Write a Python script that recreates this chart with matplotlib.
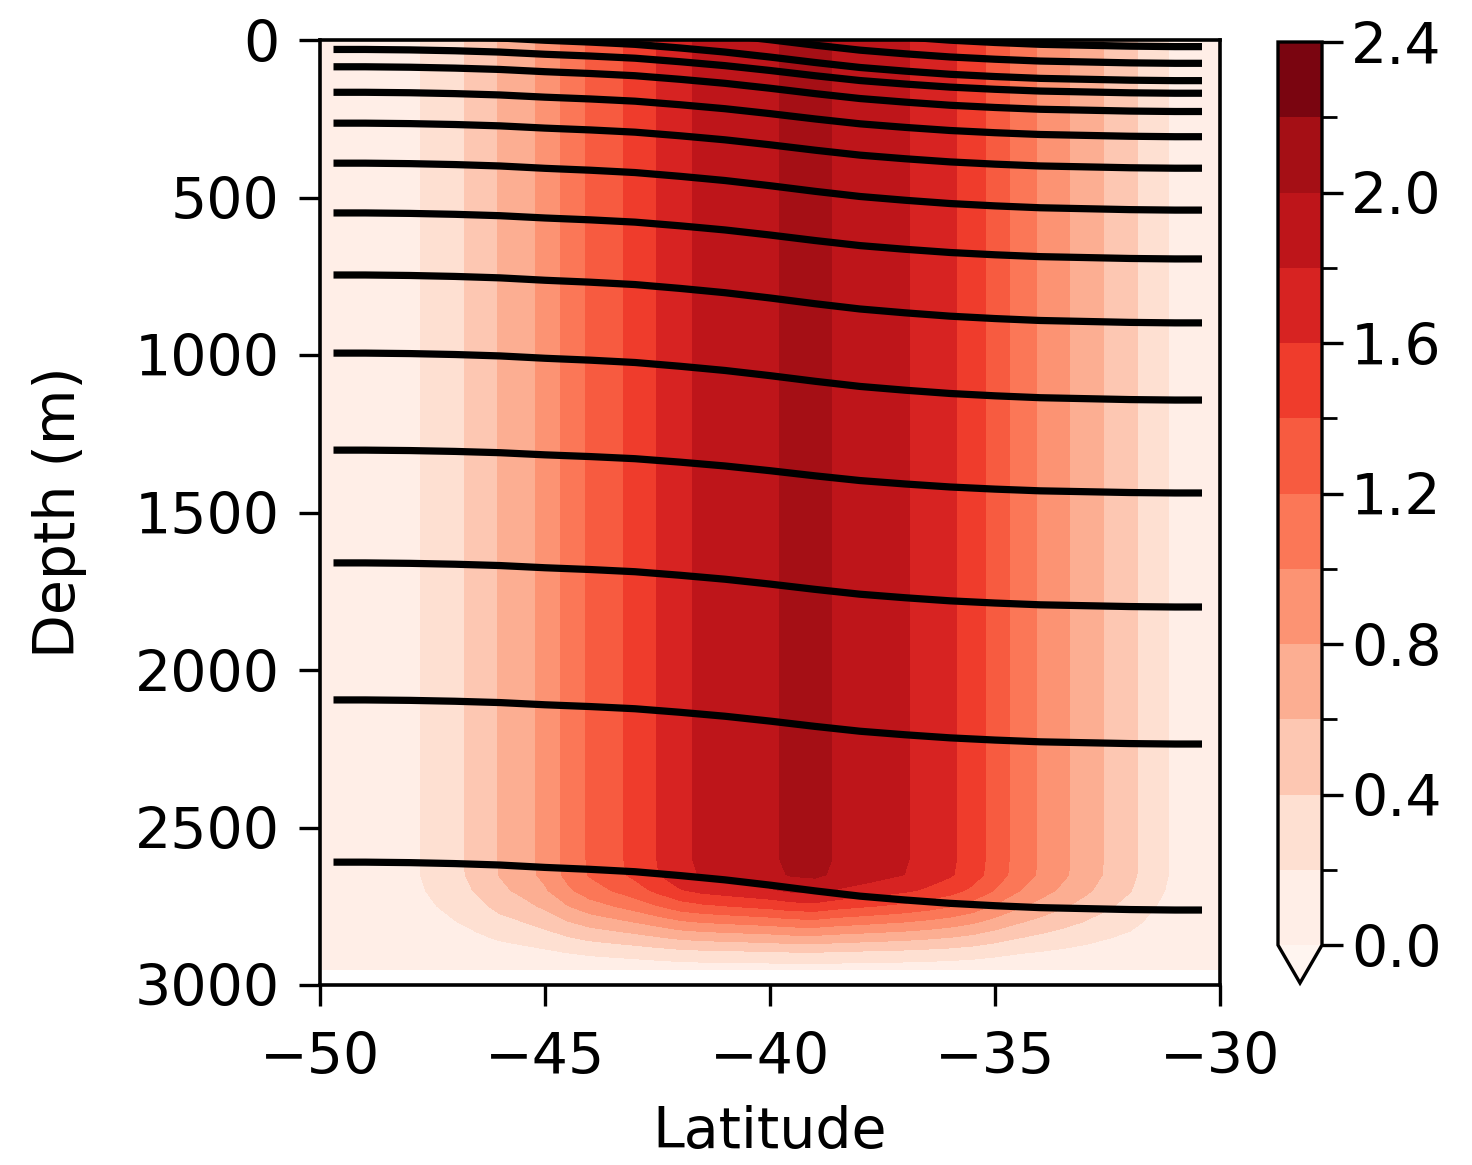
"""Zonal-mean section: shaded field (Reds) with isopycnal depth lines."""
import numpy as np
import matplotlib
matplotlib.use("Agg")
import matplotlib.pyplot as plt
from matplotlib.ticker import FixedLocator, FormatStrFormatter

# ---- data ----
# latitude grid and the upper-ocean field profile along it
lat_grid = [-50.0, -49.5, -49.0, -48.5, -48.0, -47.5, -47.0, -46.5, -46.0, -45.5,
            -45.0, -44.5, -44.0, -43.5, -43.0, -42.5, -42.0, -41.5, -41.0, -40.5,
            -40.0, -39.5, -39.0, -38.5, -38.0, -37.5, -37.0, -36.5, -36.0, -35.5,
            -35.0, -34.5, -34.0, -33.5, -33.0, -32.5, -32.0, -31.5, -31.0, -30.5, -30.0]
field_profile = [0.04, 0.06, 0.09, 0.12, 0.16, 0.25, 0.35, 0.47, 0.615, 0.72,
                 0.86, 1.065, 1.23, 1.34, 1.46, 1.605, 1.755, 1.835, 1.88, 1.925,
                 1.97, 2.04, 2.06, 1.98, 1.925, 1.87, 1.815, 1.735, 1.64, 1.505,
                 1.32, 1.13, 0.98, 0.845, 0.71, 0.575, 0.455, 0.29, 0.165, 0.10, 0.06]
# depth grid and bottom taper of the field
depth_grid = [0, 2600, 2650, 2700, 2750, 2800, 2850, 2900, 2950]
depth_taper = [1.0, 1.0, 0.99, 0.90, 0.74, 0.55, 0.36, 0.18, 0.05]

# isopycnals: depth at west end, depth at east end, shared along-section shape
line_lats = [-49.7, -49, -48, -47, -46, -45, -44, -43, -42, -41, -40,
             -39, -38, -37, -36, -35, -34, -33, -32, -31, -30.4]
line_shape = [0.0, 0.0, 0.01, 0.03, 0.06, 0.11, 0.15, 0.20, 0.28, 0.37, 0.48,
              0.60, 0.71, 0.79, 0.86, 0.91, 0.95, 0.97, 0.99, 1.0, 1.0]
west_depth = [-125, -70, -15, 30, 85, 166, 264, 391, 549, 746, 994, 1302, 1660, 2095, 2610]
east_depth = [21, 74, 129, 169, 227, 307, 407, 540, 695, 898, 1143, 1438, 1800, 2235, 2762]

levels = np.arange(0, 2.41, 0.2)
cbar_ticks = [0.0, 0.4, 0.8, 1.2, 1.6, 2.0, 2.4]
xticks = [-50, -45, -40, -35, -30]
yticks = [0, 500, 1000, 1500, 2000, 2500, 3000]

plt.rcParams.update({
    "font.size": 41,
    "axes.linewidth": 2.6,
    "xtick.major.size": 15, "ytick.major.size": 15,
    "xtick.major.width": 2.4, "ytick.major.width": 2.4,
    "xtick.minor.size": 9, "ytick.minor.size": 9,
    "xtick.minor.width": 2.0, "ytick.minor.width": 2.0,
    "xtick.major.pad": 18, "ytick.major.pad": 14,
})

W, H = 1472, 1165
fig = plt.figure(figsize=(W / 100, H / 100), dpi=100)
fig.patch.set_facecolor("white")
ax = fig.add_axes([320 / W, 1 - 985 / H, 900 / W, 945 / H])
cax = fig.add_axes([1278 / W, 1 - 983 / H, 44 / W, 941 / H])

field = np.outer(depth_taper, field_profile)
cf = ax.contourf(lat_grid, depth_grid, field, levels=levels, cmap="Reds", extend="min")

shape = np.array(line_shape)
for dw, de in zip(west_depth, east_depth):
    ax.plot(line_lats, dw + (de - dw) * shape, color="black", lw=5.2,
            solid_capstyle="butt")

ax.set_xlim(-50, -30)
ax.set_ylim(3000, 0)
ax.set_xticks(xticks)
ax.set_yticks(yticks)
ax.set_xlabel("Latitude", labelpad=14)
ax.set_ylabel("Depth (m)", labelpad=34)

cb = fig.colorbar(cf, cax=cax, ticks=cbar_ticks, extendfrac=0.042)
cb.ax.yaxis.set_major_formatter(FormatStrFormatter("%.1f"))
cb.ax.yaxis.set_minor_locator(FixedLocator(levels))
cb.outline.set_linewidth(2.4)
cb.ax.tick_params(which="major", length=15, width=2.4, pad=6)
cb.ax.tick_params(which="minor", length=11, width=2.0)

plt.savefig("out.png", dpi=100, facecolor="white")
